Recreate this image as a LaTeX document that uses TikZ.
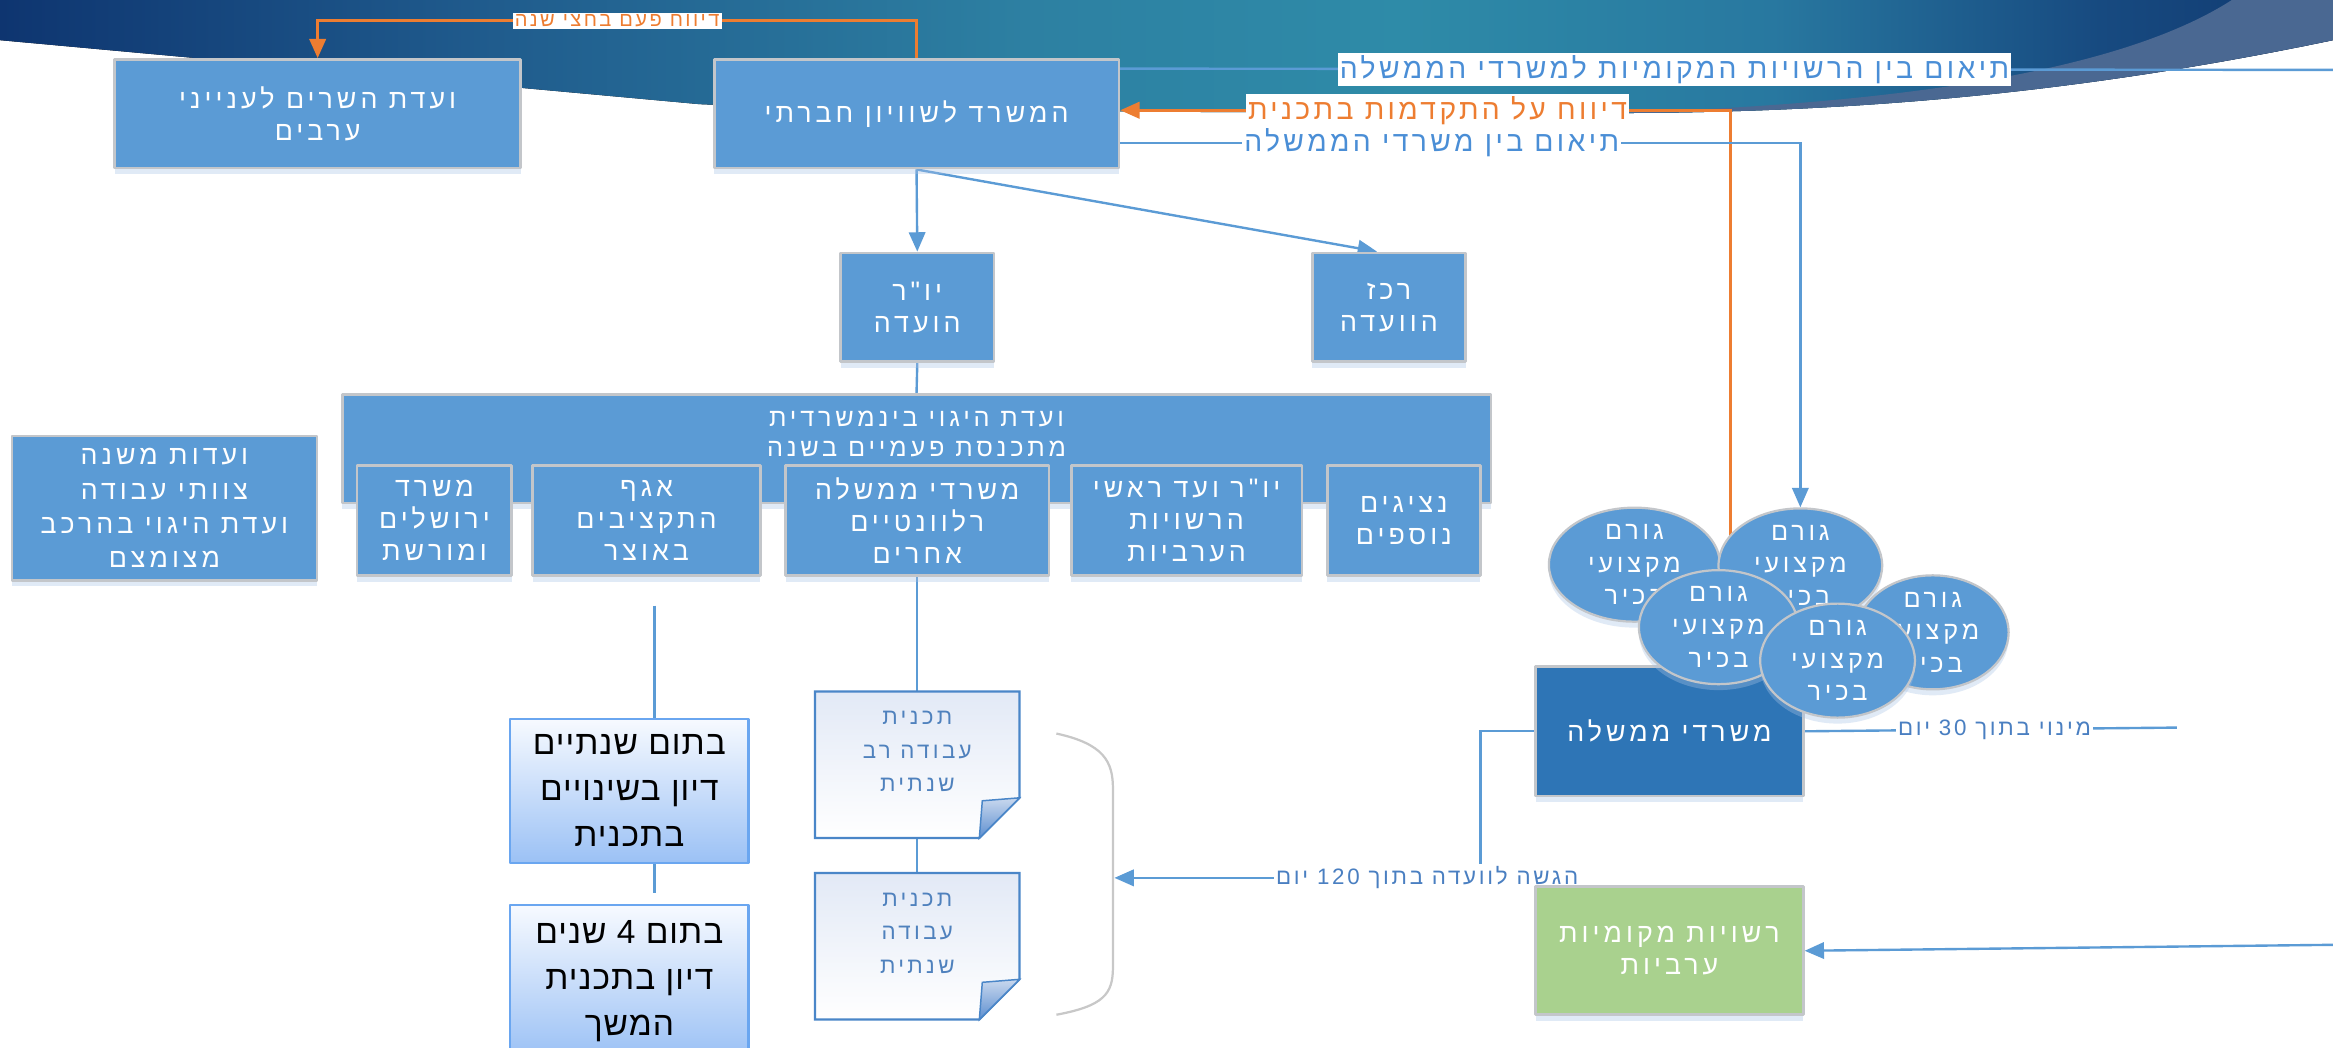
\documentclass[tikz,border=0pt]{standalone}
\usepackage{fontspec}
\usetikzlibrary{arrows.meta,calc,shapes.geometric,shadows}
\TeXXeTstate=1
\newfontfamily\hebf[Script=Hebrew,LetterSpace=15]{Liberation Sans}
\newfontfamily\hebl[Script=Hebrew,LetterSpace=12]{Liberation Sans}
\newfontfamily\hebp[Script=Hebrew,LetterSpace=3]{Liberation Sans}
\newcommand\RR[1]{\beginR #1\endR}
\definecolor{boxblue}{HTML}{5B9BD5}
\definecolor{boxline}{HTML}{C3C6CA}
\definecolor{govblue}{HTML}{2E75B6}
\definecolor{greenbox}{HTML}{A9D18E}
\definecolor{orangeline}{HTML}{ED7D31}
\definecolor{lineblue}{HTML}{5B9BD5}
\definecolor{labelblue}{HTML}{4A8ED6}
\definecolor{labelblue2}{HTML}{4A7FC1}
\definecolor{navyL}{HTML}{0E3570}
\definecolor{navyR}{HTML}{10386F}
\definecolor{bandA}{HTML}{1F5A8C}
\definecolor{bandB}{HTML}{2D80A2}
\definecolor{bandteal}{HTML}{2E8BA8}
\definecolor{bandC}{HTML}{2878A0}
\definecolor{bandD}{HTML}{174A80}
\definecolor{stripc}{HTML}{4A6892}
\definecolor{doctext}{HTML}{4F81BD}
\definecolor{docline}{HTML}{4A86C8}
\definecolor{docfill}{HTML}{E2E9F6}
\definecolor{foldtop}{HTML}{C9D8EE}
\definecolor{foldbot}{HTML}{5D8FD0}
\definecolor{gradtop}{HTML}{F7FAFF}
\definecolor{gradbot}{HTML}{9BC1F5}
\definecolor{gradline}{HTML}{6AA6F0}
\definecolor{shadowc}{HTML}{A9C3E6}
\definecolor{bracec}{HTML}{C8C8C8}
\pgfdeclarehorizontalshading{bandshade}{100bp}{color(0bp)=(navyL); color(25bp)=(navyL);
  color(35bp)=(bandA); color(47bp)=(bandB); color(55bp)=(bandteal); color(63bp)=(bandC);
  color(70bp)=(bandD); color(75bp)=(navyR); color(100bp)=(navyR)}
\pgfdeclarelayer{bg}
\pgfdeclarelayer{lines}
\pgfsetlayers{bg,lines,main}
\newcommand\docoutline[1]{%
  \path[draw=docline,line width=1.5pt,top color=docfill,bottom color=white]
    (#1.north west) -- (#1.north east) -- ($(#1.south east)+(0,-27)$)
    -- ($(#1.south east)+(-27,0)$) -- (#1.south west) -- cycle;
  \path[draw=docline,line width=1pt,top color=foldtop,bottom color=foldbot]
    ($(#1.south east)+(0,-27)$) -- ($(#1.south east)+(-27,0)$)
    -- ($(#1.south east)+(-25,-25)$) -- cycle;}
\begin{document}
\begin{tikzpicture}[x=1pt,y=-1pt,line join=round,
  shad/.style={drop shadow={shadow xshift=0pt,shadow yshift=-4pt,fill=shadowc,opacity=0.35}},
  box/.style={rectangle,draw=boxline,line width=1.8pt,fill=boxblue,text=white,
    font=\hebf\fontsize{18}{21.5}\selectfont,align=center,inner sep=2pt,shad},
  ell/.style={ellipse,draw=boxline,line width=1.5pt,fill=boxblue,text=white,
    font=\hebf\fontsize{17}{22}\selectfont,align=center,inner sep=0pt,shad},
  gbox/.style={rectangle,draw=gradline,line width=1.5pt,top color=gradtop,bottom color=gradbot,
    text=black,font=\hebp\fontsize{22.5}{31}\selectfont,align=center,inner sep=2pt},
  doctxt/.style={text=doctext,font=\hebf\fontsize{15}{22.5}\selectfont,align=center},
  docbox/.style={rectangle,minimum width=137pt,minimum height=98pt,inner sep=0pt},
  conn/.style={draw=lineblue,line width=1.6pt},
  oconn/.style={draw=orangeline,line width=2pt},
  arr/.style={-{Triangle[length=13pt,width=11pt]}},
  blbl/.style={fill=white,inner sep=1.5pt,text=labelblue,font=\hebl\fontsize{19}{20}\selectfont},
  olbl/.style={fill=white,inner sep=1.5pt,text=orangeline,font=\hebl\fontsize{19}{20}\selectfont},
  blbls/.style={blbl,text=labelblue2,font=\hebl\fontsize{15}{16}\selectfont},
  olbls/.style={olbl,font=\hebl\fontsize{13.5}{14}\selectfont}]
\useasboundingbox (0,0) rectangle (1568,704);
\clip (0,0) rectangle (1568,704);
\begin{pgfonlayer}{bg}
  \fill[white] (0,0) rectangle (1568,704);
  \fill[shading=bandshade]
    (0,0) -- (1568,0) -- (1568,27) .. controls (1400,62) and (1250,76) .. (1080,76)
    .. controls (800,76) and (560,74) .. (470,70) -- (0,27) -- cycle;
  \fill[stripc] (1080,76) .. controls (1250,76) and (1400,62) .. (1568,27) -- (1568,0)
    -- (1500,0) .. controls (1430,45) and (1290,70) .. (1080,76) -- cycle;
\end{pgfonlayer}

% boxes
\node[box,minimum width=273pt,minimum height=73pt] (B1) at (213.5,76.5) {\RR{ועדת השרים לענייני}\\\RR{ערבים}};
\node[box,minimum width=272pt,minimum height=73pt] (B2) at (616,76.5) {\RR{המשרד לשוויון חברתי}};
\node[box,minimum width=103pt,minimum height=73pt] (yor) at (616.5,206.5) {\RR{יו"ר}\\\RR{הועדה}};
\node[box,minimum width=103pt,minimum height=73pt] (rakaz) at (933.5,206.5) {\RR{רכז}\\\RR{הוועדה}};
\node[box,minimum width=772pt,minimum height=73pt,font=\hebf\fontsize{17}{20}\selectfont] (steer) at (616,301.5)
  {\RR{ועדת היגוי בינמשרדית}\\\RR{מתכנסת פעמיים בשנה}\\\mbox{}};
\node[box,minimum width=104pt,minimum height=74pt] (s1) at (292,350) {\RR{משרד}\\\RR{ירושלים}\\\RR{ומורשת}};
\node[box,minimum width=153pt,minimum height=74pt] (s2) at (434.5,350) {\RR{אגף}\\\RR{התקציבים}\\\RR{באוצר}};
\node[box,minimum width=177pt,minimum height=74pt] (s3) at (616.5,350) {\RR{משרדי ממשלה}\\\RR{רלוונטיים}\\\RR{אחרים}};
\node[box,minimum width=155pt,minimum height=74pt] (s4) at (797.5,350) {\RR{יו"ר ועד ראשי}\\\RR{הרשויות}\\\RR{הערביות}};
\node[box,minimum width=103pt,minimum height=74pt] (s5) at (943.5,350) {\RR{נציגים}\\\RR{נוספים}};
\node[box,minimum width=205pt,minimum height=97pt,font=\hebf\fontsize{18}{23}\selectfont] (L) at (110.5,341.5)
  {\RR{ועדות משנה}\\\RR{צוותי עבודה}\\\RR{ועדת היגוי בהרכב}\\\RR{מצומצם}};

% documents
\node[docbox] (doc1) at (616.5,514) {};
\node[docbox] (doc2) at (616.5,636) {};

% gradient boxes
\node[gbox,minimum width=160pt,minimum height=97pt] (g1) at (423,531.5) {\RR{בתום שנתיים}\\\RR{דיון בשינויים}\\\RR{בתכנית}};
\node[gbox,minimum width=160pt,minimum height=103pt] (g2) at (423,659.5) {\RR{בתום 4 שנים}\\\RR{דיון בתכנית}\\\RR{המשך}};

% government offices and local authorities
\node[box,fill=govblue,minimum width=180pt,minimum height=87pt] (gov) at (1122,491.5) {\RR{משרדי ממשלה}};
\node[box,fill=greenbox,minimum width=180pt,minimum height=86pt] (green) at (1122,639) {\RR{רשויות מקומיות}\\\RR{ערביות}};

% professionals
\node[ell,minimum width=115pt,minimum height=73pt] (E1) at (1098.5,379.5) {\RR{גורם}\\\RR{מקצועי}\\\RR{בכיר}};
\node[ell,minimum width=110pt,minimum height=75pt] (E2) at (1210,380) {\RR{גורם}\\\RR{מקצועי}\\\RR{בכיר}};
\node[ell,minimum width=102pt,minimum height=74pt] (E3) at (1299,425) {\RR{גורם}\\\RR{מקצועי}\\\RR{בכיר}};
\node[ell,minimum width=107pt,minimum height=73pt] (E4) at (1155,421.5) {\RR{גורם}\\\RR{מקצועי}\\\RR{בכיר}};
\node[ell,minimum width=104pt,minimum height=72pt] (E5) at (1235,444) {\RR{גורם}\\\RR{מקצועי}\\\RR{בכיר}};

% free ends
\coordinate (rightA) at (1568,47);
\coordinate (rightB) at (1568,635);
\coordinate (endR) at (1463,489);
\coordinate (f1) at (440,407);
\coordinate (f2) at (440,600);
\coordinate (braceTip) at (749,590);

\begin{pgfonlayer}{lines}
  \draw[oconn,arr] (B2.north) -- ++(0,-25)
    -- node[olbls]{\RR{דיווח פעם בחצי שנה}} ($(B1.north)+(0,-25)$) -- (B1.north);
  \draw[conn] ($(B2.north east)+(0,7)$)
    -- node[blbl,pos=0.457]{\RR{תיאום בין הרשויות המקומיות למשרדי הממשלה}} (rightA);
  \draw[oconn,arr] ($(E4.north)+(8,0)$)
    |- node[olbl,pos=0.74]{\RR{דיווח על התקדמות בתכנית}} ($(B2.north east)+(0,35)$);
  \draw[conn,arr] ($(B2.north east)+(0,57)$)
    -| node[blbl,pos=0.229]{\RR{תיאום בין משרדי הממשלה}} (E2.north);
  \draw[conn,arr] (B2.south) -- (yor.north);
  \draw[conn,arr] (B2.south) -- ($(rakaz.north)+(-8,0)$);
  \draw[conn] (yor.south) -- (steer.north);
  \draw[conn] (s3.south) -- (doc1.north);
  \draw[conn] (doc1.south) -- (doc2.north);
  \draw[conn] (f1) -- (f1 |- g1.north);
  \draw[conn] (f1 |- g1.south) -- (f2);
  \draw[conn,arr] (gov.west) -- ++(-36,0)
    |- node[blbls,pos=0.573]{\RR{הגשה לוועדה בתוך \beginL 120\endL{} יום}} (braceTip);
  \draw[conn] (gov.east) -- node[blbls,pos=0.51]{\RR{מינוי בתוך \beginL 30\endL{} יום}} (endR);
  \draw[conn,arr] (rightB) -- (green.east);
  \draw[bracec,line width=1.5pt] (710,493) .. controls (742,500) and (748,512) .. (748,530)
    -- (748,650) .. controls (748,668) and (742,676) .. (710,682);
  \docoutline{doc1}
  \docoutline{doc2}
\end{pgfonlayer}

\node[doctxt] (doc1t) at ($(doc1.center)+(0,-9)$) {\RR{תכנית}\\\RR{עבודה רב}\\\RR{שנתית}};
\node[doctxt] (doc2t) at ($(doc2.center)+(0,-9)$) {\RR{תכנית}\\\RR{עבודה}\\\RR{שנתית}};
\end{tikzpicture}
\end{document}
